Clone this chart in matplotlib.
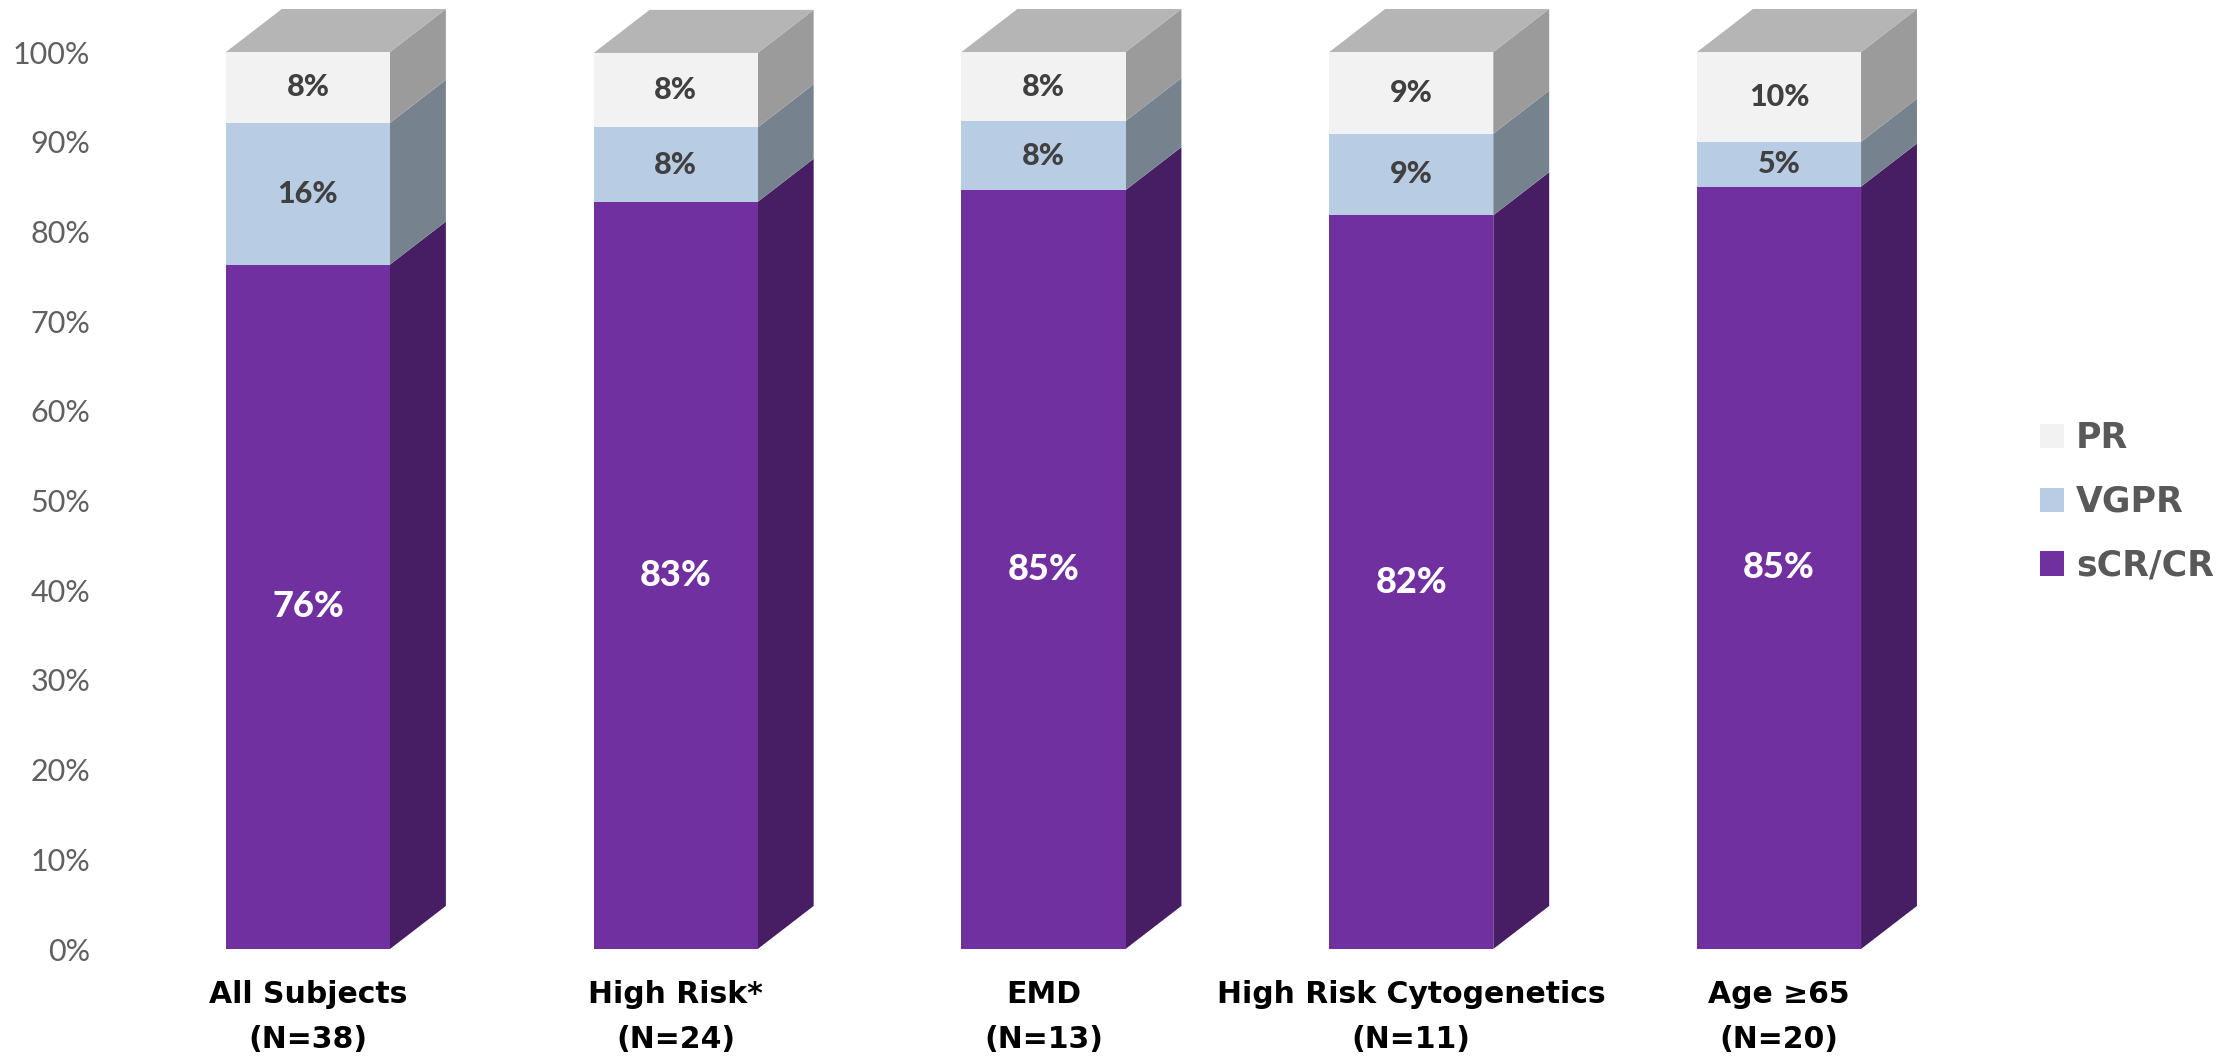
import matplotlib
matplotlib.use("Agg")
import matplotlib.pyplot as plt
from matplotlib.patches import Polygon

plt.rcParams['font.family'] = ['Lato', 'DejaVu Sans']

# ---- data ----
categories = ["All Subjects\n(N=38)", "High Risk*\n(N=24)", "EMD\n(N=13)",
              "High Risk Cytogenetics\n(N=11)", "Age \u226565\n(N=20)"]
scr_cr = [76.3, 83.3, 84.6, 81.8, 85.0]
vgpr = [15.8, 8.3, 7.7, 9.1, 5.0]
pr = [7.9, 8.3, 7.7, 9.1, 10.0]
series_names = ["sCR/CR", "VGPR", "PR"]
yticks = list(range(0, 101, 10))

# ---- style ----
front_colors = ["#7030A0", "#B8CCE4", "#F2F2F2"]
side_colors = ["#471E63", "#76838F", "#9B9B9B"]
top_color = "#B5B5B5"
label_colors = ["white", "#404040", "#404040"]
label_sizes = [26, 22, 22]
bar_w = 0.446
dx = 0.152   # depth offset in x data units
dy = 4.8     # depth offset in y data units
bold_family = ['DejaVu Sans']

fig = plt.figure(figsize=(22.39, 10.62), dpi=100)
ax = fig.add_axes([0.0472, 0.1064, 0.8295, 0.8446])
ax.set_xlim(-0.55, 4.5)
ax.set_ylim(0, 100)

x = list(range(len(categories)))
series = [scr_cr, vgpr, pr]
bottoms = [0.0] * len(x)
containers = []
for s, vals in enumerate(series):
    bc = ax.bar(x, vals, width=bar_w, bottom=bottoms, color=front_colors[s],
                label=series_names[s], zorder=3, linewidth=0)
    containers.append(bc)
    for i, v in enumerate(vals):
        b = bottoms[i]
        t = b + v
        xr = x[i] + bar_w / 2
        side = Polygon([(xr, b), (xr + dx, b + dy), (xr + dx, t + dy), (xr, t)],
                       closed=True, facecolor=side_colors[s], edgecolor='none',
                       zorder=2, clip_on=False)
        ax.add_patch(side)
        ax.text(x[i], (b + t) / 2, f"{v:.0f}%", ha='center', va='center',
                fontsize=label_sizes[s], fontweight='black',
                color=label_colors[s], zorder=5)
    bottoms = [bottoms[i] + vals[i] for i in range(len(x))]

# top faces
for i in x:
    top = bottoms[i]
    xl = x[i] - bar_w / 2
    xr = x[i] + bar_w / 2
    tp = Polygon([(xl, top), (xl + dx, top + dy), (xr + dx, top + dy), (xr, top)],
                 closed=True, facecolor=top_color, edgecolor='none', zorder=2,
                 clip_on=False)
    ax.add_patch(tp)

ax.set_yticks(yticks)
ax.set_yticklabels([f"{t}%" for t in yticks], fontsize=22, color="#606060")
ax.set_xticks(x)
ax.set_xticklabels(categories, fontsize=21.5, fontweight='bold', color='black',
                   linespacing=1.7, family=bold_family)
ax.tick_params(axis='y', length=0, pad=11)
ax.tick_params(axis='x', length=0, pad=22)
for sp in ax.spines.values():
    sp.set_visible(False)

handles = containers[::-1]
leg = fig.legend(handles, [series_names[2], series_names[1], series_names[0]],
                 loc='center left', bbox_to_anchor=(2040 / 2239, 1 - 502 / 1062),
                 frameon=False, prop={'family': bold_family, 'size': 25, 'weight': 'bold'},
                 handlelength=0.7, handleheight=0.7,
                 handletextpad=0.33, labelspacing=0.85, borderaxespad=0, borderpad=0)
for t in leg.get_texts():
    t.set_color("#595959")

fig.savefig("out.png", dpi=100, facecolor='white')
